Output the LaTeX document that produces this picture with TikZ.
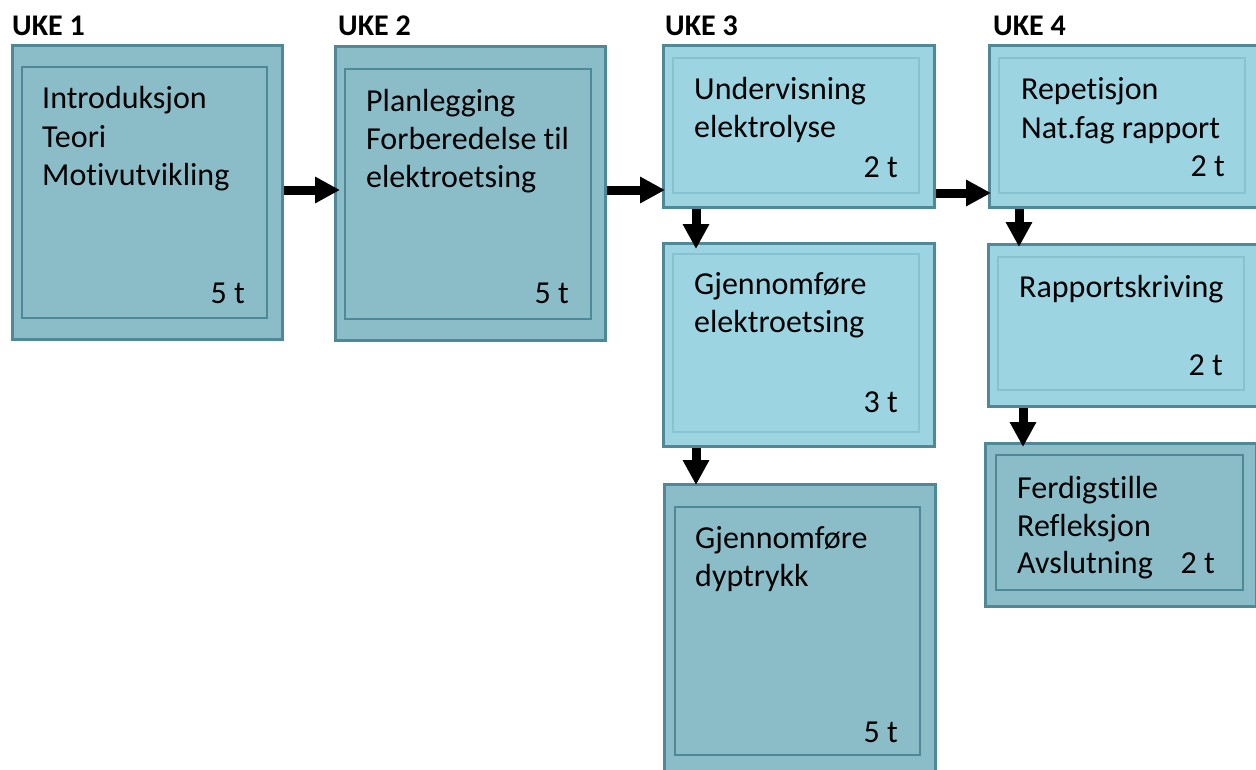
\documentclass[tikz,border=0pt]{standalone}
\usepackage{fontspec}
\setmainfont{Carlito}[Ligatures={NoCommon}]
\usetikzlibrary{arrows.meta}
\definecolor{darkfill}{HTML}{8BBDC9}
\definecolor{lightfill}{HTML}{9CD4E2}
\definecolor{edgecol}{HTML}{4F8897}
\definecolor{lightinner}{HTML}{88C2D0}
\tikzset{
  outerdark/.style={draw=edgecol, line width=2.6pt, fill=darkfill, rectangle, inner sep=0pt, anchor=north west},
  outerlight/.style={draw=edgecol, line width=2.6pt, fill=lightfill, rectangle, inner sep=0pt, anchor=north west},
  innerdark/.style={draw=edgecol, line width=1.3pt},
  innerlight/.style={draw=lightinner, line width=1.3pt},
  txt/.style={inner sep=0pt, anchor=base west, font=\fontsize{32}{38}\selectfont},
  hrs/.style={inner sep=0pt, anchor=base east, font=\fontsize{32}{38}\selectfont},
  uke/.style={inner sep=0pt, anchor=base west, font=\fontsize{30}{34}\selectfont\bfseries},
  arr/.style={line width=9pt, -{Triangle[length=25pt,width=25pt]}},
}
\begin{document}
\begin{tikzpicture}[x=1pt,y=-1pt]
\clip (0,0) rectangle (1256,769);
\fill[white] (0,0) rectangle (1256,769);

% boxes
\node (b1) [outerdark, minimum width=270pt, minimum height=294pt] at (11,44) {};
\draw[innerdark] (22,67) rectangle (267,318);
\node (b2) [outerdark, minimum width=270pt, minimum height=294pt] at (334,45) {};
\draw[innerdark] (345,69) rectangle (591,319);
\node (b3) [outerlight, minimum width=271pt, minimum height=162pt] at (662,44) {};
\draw[innerlight] (673,58) rectangle (919,193);
\node (b4) [outerlight, minimum width=271pt, minimum height=203pt] at (662,242) {};
\draw[innerlight] (673,254) rectangle (919,432);
\node (b5) [outerdark, minimum width=271pt, minimum height=310pt] at (663,483) {};
\draw[innerdark] (675,507) rectangle (920,755);
\node (b6) [outerlight, minimum width=280pt, minimum height=162pt] at (988,44) {};
\draw[innerlight] (999,58) rectangle (1245,193);
\node (b7) [outerlight, minimum width=280pt, minimum height=162pt] at (987,243) {};
\draw[innerlight] (998,257) rectangle (1244,390);
\node (b8) [outerdark, minimum width=271pt, minimum height=163pt] at (984,442) {};
\draw[innerdark] (996,455) rectangle (1243,590);

% headings
\node (u1) [uke] at (12,35) {UKE 1};
\node (u2) [uke] at (338,35) {UKE 2};
\node (u3) [uke] at (665,35) {UKE 3};
\node (u4) [uke] at (993,35) {UKE 4};

% texts
\node (t11) [txt] at (42,108) {Introduksjon};
\node (t12) [txt] at (42,147) {Teori};
\node (t13) [txt] at (42,185) {Motivutvikling};
\node (h1) [hrs] at (245,303) {5 t};

\node (t21) [txt] at (366,111) {Planlegging};
\node (t22) [txt] at (366,149) {Forberedelse til};
\node (t23) [txt] at (366,187) {elektroetsing};
\node (h2) [hrs] at (569,303) {5 t};

\node (t31) [txt] at (694,99) {Undervisning};
\node (t32) [txt] at (694,137) {elektrolyse};
\node (h3) [hrs] at (898,177) {2 t};

\node (t41) [txt] at (694,294) {Gjennomføre};
\node (t42) [txt] at (694,332) {elektroetsing};
\node (h4) [hrs] at (898,412) {3 t};

\node (t51) [txt] at (695,548) {Gjennomføre};
\node (t52) [txt] at (695,586) {dyptrykk};
\node (h5) [hrs] at (898,742) {5 t};

\node (t61) [txt] at (1021,99) {Repetisjon};
\node (t62) [txt] at (1021,138) {Nat.fag rapport};
\node (h6) [hrs] at (1225,176) {2 t};

\node (t71) [txt] at (1019,297) {Rapportskriving};
\node (h7) [hrs] at (1223,375) {2 t};

\node (t81) [txt] at (1017,498) {Ferdigstille};
\node (t82) [txt] at (1017,536) {Refleksjon};
\node (t83) [txt] at (1017,573) {Avslutning};
\node (h8) [hrs] at (1215,573) {2 t};

% connectors
\draw[arr, shorten >=-6pt] (b1.east |- 0,190) -- (b2.west |- 0,190);
\draw[arr, shorten >=-3pt] (b2.east |- 0,190) -- (b3.west |- 0,190);
\draw[arr, shorten >=-3pt] (b3.east |- 0,193) -- (b6.west |- 0,193);
\draw[arr, shorten >=-7pt] (b3.south -| 696,0) -- (b4.north -| 696,0);
\draw[arr, shorten >=-2pt] (b4.south -| 696,0) -- (b5.north -| 696,0);
\draw[arr, shorten >=-4pt] (b6.south -| 1019,0) -- (b7.north -| 1019,0);
\draw[arr, shorten >=-5pt] (b7.south -| 1023,0) -- (b8.north -| 1023,0);
\end{tikzpicture}
\end{document}
